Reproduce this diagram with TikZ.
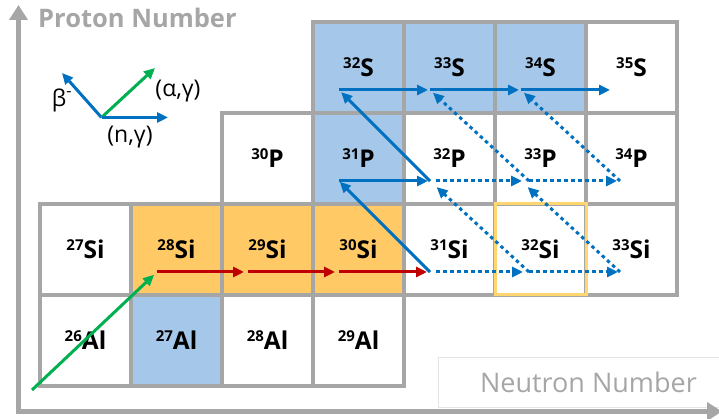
\documentclass[tikz,border=0pt]{standalone}
\usepackage{fontspec}
\setmainfont{Open Sans}
\usepackage{xcolor}
\usepackage{tikz}
\usetikzlibrary{positioning, calc, arrows.meta}

\definecolor{gridgray}{HTML}{A6A6A6}
\definecolor{cellblue}{HTML}{A5C8EA}
\definecolor{cellorange}{HTML}{FFCA66}
\definecolor{rimorange}{HTML}{FFD670}
\definecolor{ngblue}{HTML}{0070C0}
\definecolor{seedred}{HTML}{C00000}
\definecolor{agreen}{HTML}{00B050}
\definecolor{boxgray}{HTML}{E4E4E4}

\newcommand{\iso}[2]{\raisebox{8pt}{\fontsize{15}{15}\selectfont #1}#2}

\begin{document}
\begin{tikzpicture}[x=1pt, y=1pt,
    cell/.style={rectangle, draw=gridgray, line width=3.5pt, minimum size=91pt,
                 inner sep=0pt, outer sep=0pt, font=\fontsize{24.5}{28}\selectfont\bfseries},
    stable/.style={cell, fill=cellblue},
    seed/.style={cell, fill=cellorange},
    arr/.style={-{Triangle[length=11pt, width=10pt]}, line width=3pt},
    ng/.style={arr, draw=ngblue},
    ngdot/.style={ng, dash pattern=on 3.5pt off 3.5pt},
    capture/.style={arr, draw=seedred},
    agam/.style={arr, draw=agreen},
    legtext/.style={font=\fontsize{23}{27}\selectfont, inner sep=0pt},
    axis/.style={{Triangle[length=15pt, width=18pt]}-{Triangle[length=15pt, width=18pt]},
                 draw=gridgray, line width=4.5pt, line join=miter}]

    \useasboundingbox (0,0) rectangle (719,419);

    % Aluminium row
    \node[cell]   (Al26) at (85.5,78.5)  {\iso{26}{Al}};
    \node[stable] (Al27) at (176.5,78.5) {\iso{27}{Al}};
    \node[cell]   (Al28) at (267.5,78.5) {\iso{28}{Al}};
    \node[cell]   (Al29) at (358.5,78.5) {\iso{29}{Al}};

    % Silicon row
    \node[cell] (Si27) at (85.5,169.5)  {\iso{27}{Si}};
    \node[seed] (Si28) at (176.5,169.5) {\iso{28}{Si}};
    \node[seed] (Si29) at (267.5,169.5) {\iso{29}{Si}};
    \node[seed] (Si30) at (358.5,169.5) {\iso{30}{Si}};
    \node[cell] (Si31) at (449.5,169.5) {\iso{31}{Si}};
    \node[cell] (Si32) at (540.5,169.5) {\iso{32}{Si}};
    \node[cell] (Si33) at (631.5,169.5) {\iso{33}{Si}};

    % Phosphorus row
    \node[cell]   (P30) at (267.5,260.5) {\iso{30}{P}};
    \node[stable] (P31) at (358.5,260.5) {\iso{31}{P}};
    \node[cell]   (P32) at (449.5,260.5) {\iso{32}{P}};
    \node[cell]   (P33) at (540.5,260.5) {\iso{33}{P}};
    \node[cell]   (P34) at (631.5,260.5) {\iso{34}{P}};

    % Sulphur row
    \node[stable] (S32) at (358.5,351.5) {\iso{32}{S}};
    \node[stable] (S33) at (449.5,351.5) {\iso{33}{S}};
    \node[stable] (S34) at (540.5,351.5) {\iso{34}{S}};
    \node[cell]   (S35) at (631.5,351.5) {\iso{35}{S}};

    % Rim round 32Si
    \draw[rimorange, line width=3pt] (Si32.south west) rectangle (Si32.north east);

    % Arrow hubs in the lower left of each cell
    \coordinate (hSi28) at ($(Si28)+(-19.5,-22.5)$);
    \coordinate (hSi29) at ($(Si29)+(-19.5,-22.5)$);
    \coordinate (hSi30) at ($(Si30)+(-19.5,-22.5)$);
    \coordinate (hSi31) at ($(Si31)+(-19.5,-22.5)$);
    \coordinate (hSi32) at ($(Si32)+(-19.5,-22.5)$);
    \coordinate (hSi33) at ($(Si33)+(-19.5,-22.5)$);
    \coordinate (hP31) at ($(P31)+(-19.5,-22.5)$);
    \coordinate (hP32) at ($(P32)+(-19.5,-22.5)$);
    \coordinate (hP33) at ($(P33)+(-19.5,-22.5)$);
    \coordinate (hP34) at ($(P34)+(-19.5,-22.5)$);
    \coordinate (hS32) at ($(S32)+(-19.5,-22.5)$);
    \coordinate (hS33) at ($(S33)+(-19.5,-22.5)$);
    \coordinate (hS34) at ($(S34)+(-19.5,-22.5)$);
    \coordinate (hS35) at ($(S35)+(-19.5,-22.5)$);

    % Junctions of the dotted branches
    \coordinate (jSi32) at ($(hSi32)+(8,0)$);
    \coordinate (jSi33) at ($(hSi33)+(8,0)$);
    \coordinate (jP33) at ($(hP33)+(8,0)$);
    \coordinate (jP34) at ($(hP34)+(8,0)$);

    % Alpha capture feeding 28Si
    \coordinate (aStart) at (32,29);
    \draw[agam, shorten >=4pt] (aStart) -- (hSi28);

    % Neutron captures along the seed silicon
    \draw[capture, shorten >=4pt] (hSi28) -- (hSi29);
    \draw[capture, shorten >=4pt] (hSi29) -- (hSi30);
    \draw[capture, shorten >=3pt] (hSi30) -- (hSi31);

    % Main path: beta decays and neutron captures
    \draw[ng, shorten >=1pt] (hSi31) -- (hP31);
    \draw[ng, shorten >=2pt] (hP31) -- (hP32);
    \draw[ng, shorten >=3pt] (hP32) -- (hS32);
    \draw[ng, shorten >=2pt] (hS32) -- (hS33);
    \draw[ng, shorten >=2pt] (hS33) -- (hS34);
    \draw[ng, shorten >=2pt] (hS34) -- (hS35);

    % Weak branches (dotted)
    \draw[ngdot, shorten <=6pt, shorten >=6pt] (hSi31) -- (jSi32);
    \draw[ngdot, shorten >=2pt] (jSi32) -- (jSi33);
    \draw[ngdot, shorten >=9pt] (jSi32) -- (hP32);
    \draw[ngdot, shorten >=9pt] (jSi33) -- (hP33);
    \draw[ngdot, shorten <=6pt, shorten >=7pt] (hP32) -- (jP33);
    \draw[ngdot, shorten >=3pt] (jP33) -- (jP34);
    \draw[ngdot, shorten >=4pt] (jP33) -- (hS33);
    \draw[ngdot, shorten >=4pt] (jP34) -- (hS34);

    % Legend
    \coordinate (leg) at (101.5,301.5);
    \coordinate (legB) at (62,346);
    \coordinate (legA) at (155,351);
    \coordinate (legN) at (168,301.5);
    \draw[ng] (leg) -- (legB);
    \draw[agam] (leg) -- (legA);
    \draw[ng] (leg) -- (legN);
    \node[legtext] (lB) at (62,319) {β\textsuperscript{-}};
    \node[legtext] (lA) at (178,328) {(α,γ)};
    \node[legtext] (lN) at (130,281.5) {(n,γ)};

    % Axes and their titles
    \node[draw=boxgray, line width=0.8pt, minimum width=300pt, minimum height=50pt,
          anchor=south west, font=\fontsize{27}{32}\selectfont, text=gridgray] (nlabel) at (438,11) {Neutron Number};
    \node[anchor=base west, inner sep=0pt, font=\fontsize{25.5}{30}\selectfont\bfseries,
          text=gridgray] (plabel) at (38,391) {Proton Number};
    \coordinate (orig) at (18.5,7.5);
    \coordinate (ytip) at (18.5,414);
    \coordinate (xtip) at (722,7.5);
    \draw[axis] (ytip) -- (orig) -- (xtip);

\end{tikzpicture}
\end{document}
